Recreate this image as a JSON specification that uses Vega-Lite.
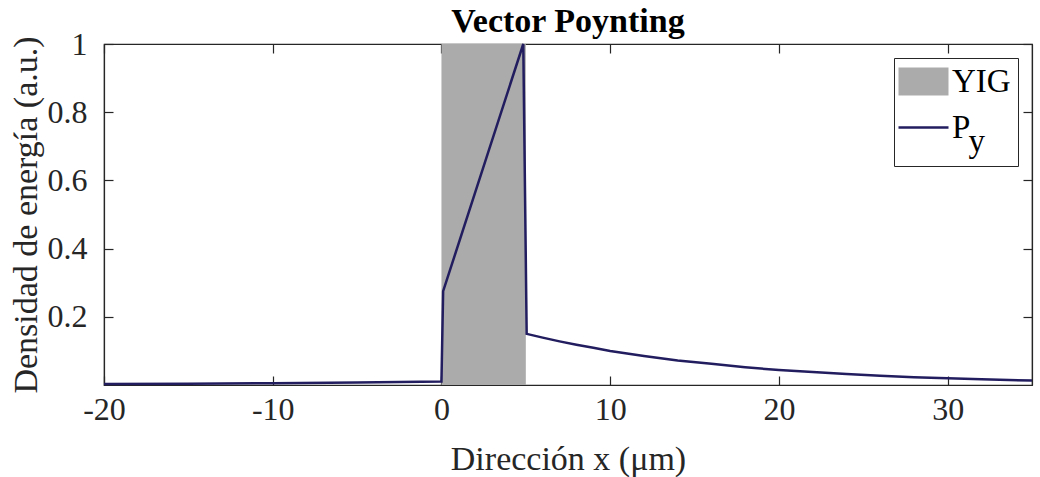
{
  "$schema": "https://vega.github.io/schema/vega-lite/v6.json",
  "width": 928,
  "height": 341,
  "autosize": {"type": "none"},
  "padding": {"left": 104, "top": 44, "right": 8, "bottom": 92},
  "background": "white",
  "title": {
    "text": "Vector Poynting",
    "font": "Liberation Serif",
    "fontSize": 34,
    "fontWeight": "bold",
    "color": "#000000",
    "offset": 4,
    "dy": 15,
    "anchor": "middle"
  },
  "config": {
    "view": {"stroke": "#262626", "strokeWidth": 1.2},
    "axis": {
      "labelFont": "Liberation Serif",
      "labelFontSize": 32,
      "labelColor": "#262626",
      "labelFlush": false,
      "titleFont": "Liberation Serif",
      "titleFontSize": 34,
      "titleFontWeight": "normal",
      "titleColor": "#262626",
      "domainColor": "#262626",
      "domainWidth": 1.2,
      "tickColor": "#262626",
      "tickWidth": 1.2,
      "tickSize": -9,
      "grid": false,
      "zindex": 1
    },
    "legend": {
      "orient": "top-right",
      "offset": 14,
      "fillColor": "white",
      "strokeColor": "#262626",
      "padding": 7,
      "rowPadding": 12,
      "labelFont": "Liberation Serif",
      "labelFontSize": 33,
      "labelColor": "#000000",
      "labelOffset": 12,
      "symbolOffset": 6,
      "symbolSize": 2500
    }
  },
  "datasets": {
    "yig": [{"serie": "YIG", "x0": 0, "x1": 5}],
    "poynting": [
      {"serie": "Py", "x": -20, "p": 0.003},
      {"serie": "Py", "x": -15, "p": 0.004},
      {"serie": "Py", "x": -10, "p": 0.005},
      {"serie": "Py", "x": -5, "p": 0.007},
      {"serie": "Py", "x": 0, "p": 0.010},
      {"serie": "Py", "x": 0.1, "p": 0.275},
      {"serie": "Py", "x": 4.85, "p": 1.0},
      {"serie": "Py", "x": 5.05, "p": 0.150},
      {"serie": "Py", "x": 6, "p": 0.139},
      {"serie": "Py", "x": 7, "p": 0.128},
      {"serie": "Py", "x": 8, "p": 0.118},
      {"serie": "Py", "x": 9, "p": 0.109},
      {"serie": "Py", "x": 10, "p": 0.100},
      {"serie": "Py", "x": 12, "p": 0.085},
      {"serie": "Py", "x": 14, "p": 0.072},
      {"serie": "Py", "x": 16, "p": 0.062},
      {"serie": "Py", "x": 18, "p": 0.052},
      {"serie": "Py", "x": 20, "p": 0.044},
      {"serie": "Py", "x": 22, "p": 0.038},
      {"serie": "Py", "x": 24, "p": 0.032},
      {"serie": "Py", "x": 26, "p": 0.027},
      {"serie": "Py", "x": 28, "p": 0.023},
      {"serie": "Py", "x": 30, "p": 0.020},
      {"serie": "Py", "x": 32, "p": 0.017},
      {"serie": "Py", "x": 35, "p": 0.013}
    ]
  },
  "layer": [
    {
      "data": {"name": "yig"},
      "mark": {"type": "rect", "opacity": 1},
      "encoding": {
        "x": {
          "field": "x0", "type": "quantitative",
          "scale": {"domain": [-20, 35], "nice": false, "zero": false},
          "axis": {"orient": "bottom", "values": [-20, -10, 0, 10, 20, 30], "labelPadding": 18, "labelExpr": "replace(datum.label, '−', '-')", "title": "Dirección x (μm)", "titlePadding": 17}
        },
        "x2": {"field": "x1"},
        "y": {
          "datum": 0, "type": "quantitative",
          "scale": {"domain": [0, 1], "nice": false},
          "axis": {"orient": "left", "values": [0.2, 0.4, 0.6, 0.8, 1], "format": "~g", "labelPadding": 26, "title": "Densidad de energía (a.u.)", "titlePadding": 4}
        },
        "y2": {"datum": 1},
        "color": {
          "field": "serie", "type": "nominal",
          "scale": {"domain": ["YIG", "Py"], "range": ["#ababab", "#221d5f"]},
          "legend": {
            "title": null,
            "labelExpr": "datum.value == 'Py' ? ['P', '\u200b\u2007y'] : datum.label",
            "encode": {
              "symbols": {
                "update": {
                  "shape": {"signal": "datum.value == 'YIG' ? 'M-1,-0.56H1V0.56H-1Z' : 'stroke'"},
                  "strokeWidth": {"signal": "datum.value == 'YIG' ? 0 : 2.5"}
                }
              },
              "labels": {
                "update": {"lineHeight": {"value": 14}}
              }
            }
          }
        }
      }
    },
    {
      "data": {"name": "poynting"},
      "mark": {"type": "line", "strokeWidth": 2.5},
      "encoding": {
        "x": {
          "field": "x", "type": "quantitative",
          "axis": {"orient": "top", "values": [-20, -10, 0, 10, 20, 30], "labels": false, "title": null}
        },
        "y": {
          "field": "p", "type": "quantitative",
          "axis": {"orient": "right", "values": [0.2, 0.4, 0.6, 0.8, 1], "labels": false, "title": null}
        },
        "color": {
          "field": "serie", "type": "nominal",
          "legend": {
            "title": null,
            "labelExpr": "datum.value == 'Py' ? ['P', '\u200b\u2007y'] : datum.label",
            "encode": {
              "symbols": {
                "update": {
                  "shape": {"signal": "datum.value == 'YIG' ? 'M-1,-0.56H1V0.56H-1Z' : 'stroke'"},
                  "strokeWidth": {"signal": "datum.value == 'YIG' ? 0 : 2.5"}
                }
              },
              "labels": {
                "update": {"lineHeight": {"value": 14}}
              }
            }
          }
        }
      }
    }
  ]
}
